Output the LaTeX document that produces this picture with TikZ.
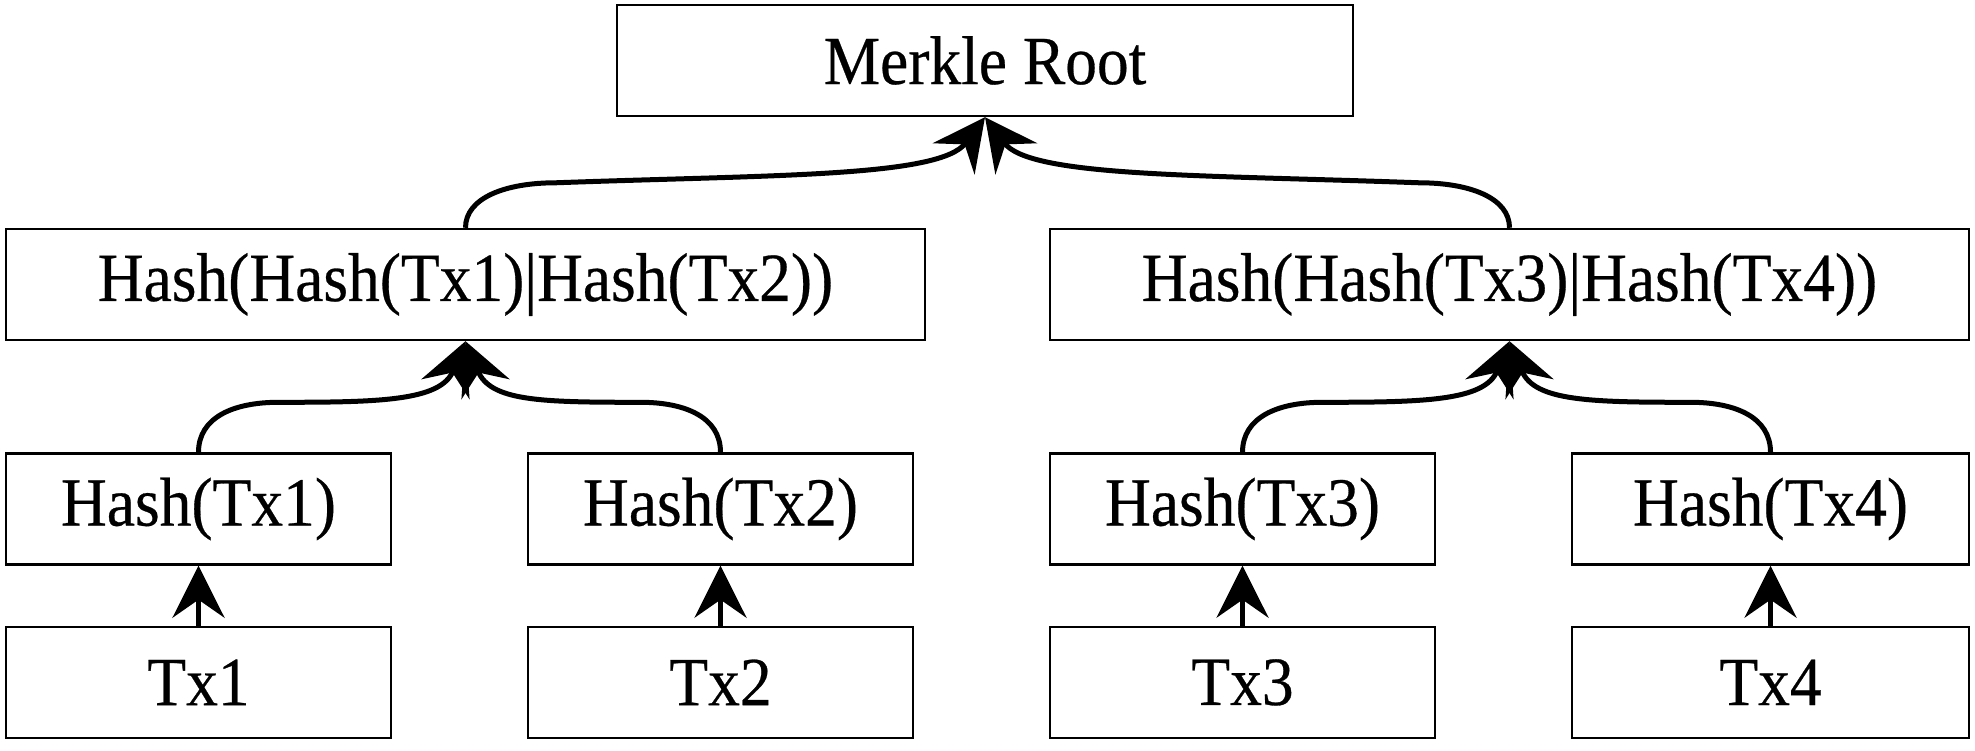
\documentclass[tikz,border=0pt]{standalone}
\usepackage{fontspec}
\setmainfont{Liberation Serif}[FakeStretch=0.92, FakeBold=0.4]
\usepackage{tikz}
\usetikzlibrary{arrows.meta, positioning}
\tikzstyle{link} = [draw, -{Stealth[length=26pt,width=26pt,inset=9pt]}, line width=2.5pt]

\begin{document}
\begin{tikzpicture}[x=0.5pt,y=0.5pt]
  \tikzset{
    hashbox/.style={
      rectangle,
      draw=black,
      line width=1.2pt,
      minimum width=#1,
      minimum height=55.5pt,
      inner sep=0pt,
      align=center,
      font=\fontsize{34.5}{40}\selectfont
    },
    hashbox/.default=192.5pt
  }
  \useasboundingbox (0,0) rectangle (1975,750);

  % root and inner hashes
  \node[hashbox=368pt] (root) at (985,689.5) {Merkle Root};
  \node[hashbox=459.5pt] (h12) at (465.5,465.5) {Hash(Hash(Tx1)|Hash(Tx2))};
  \node[hashbox=459.5pt] (h34) at (1509.5,465.5) {Hash(Hash(Tx3)|Hash(Tx4))};

  % leaf hashes
  \node[hashbox] (h1) at (198.5,241) {Hash(Tx1)};
  \node[hashbox] (h2) at (720.5,241) {Hash(Tx2)};
  \node[hashbox] (h3) at (1242.5,241) {Hash(Tx3)};
  \node[hashbox=198.5pt] (h4) at (1770.5,241) {Hash(Tx4)};

  % transactions
  \node[hashbox] (tx1) [below=30pt of h1] {Tx1};
  \node[hashbox] (tx2) [below=30pt of h2] {Tx2};
  \node[hashbox] (tx3) [below=30pt of h3] {Tx3};
  \node[hashbox=198.5pt] (tx4) [below=30pt of h4] {Tx4};

  \draw[link] (tx1) -- (h1);
  \draw[link] (tx2) -- (h2);
  \draw[link] (tx3) -- (h3);
  \draw[link] (tx4) -- (h4);

  % leaf pairs
  \draw[link] (h1.north) .. controls +(0,35) and +(-45,0) .. ++(80,50)
    .. controls +(100,0) and +(-25,-60) .. (h12.south);
  \draw[link] (h2.north) .. controls +(0,35) and +(45,0) .. ++(-80,50)
    .. controls +(-100,0) and +(25,-60) .. (h12.south);
  \draw[link] (h3.north) .. controls +(0,35) and +(-45,0) .. ++(80,50)
    .. controls +(100,0) and +(-25,-60) .. (h34.south);
  \draw[link] (h4.north) .. controls +(0,35) and +(45,0) .. ++(-80,50)
    .. controls +(-100,0) and +(25,-60) .. (h34.south);

  % up to the root
  \draw[link] (h12.north) .. controls +(0,30) and +(-50,0) .. ++(90,45)
    .. controls +(220,8) and +(-45,-60) .. (root.south);
  \draw[link] (h34.north) .. controls +(0,30) and +(50,0) .. ++(-90,45)
    .. controls +(-220,8) and +(45,-60) .. (root.south);
\end{tikzpicture}
\end{document}
